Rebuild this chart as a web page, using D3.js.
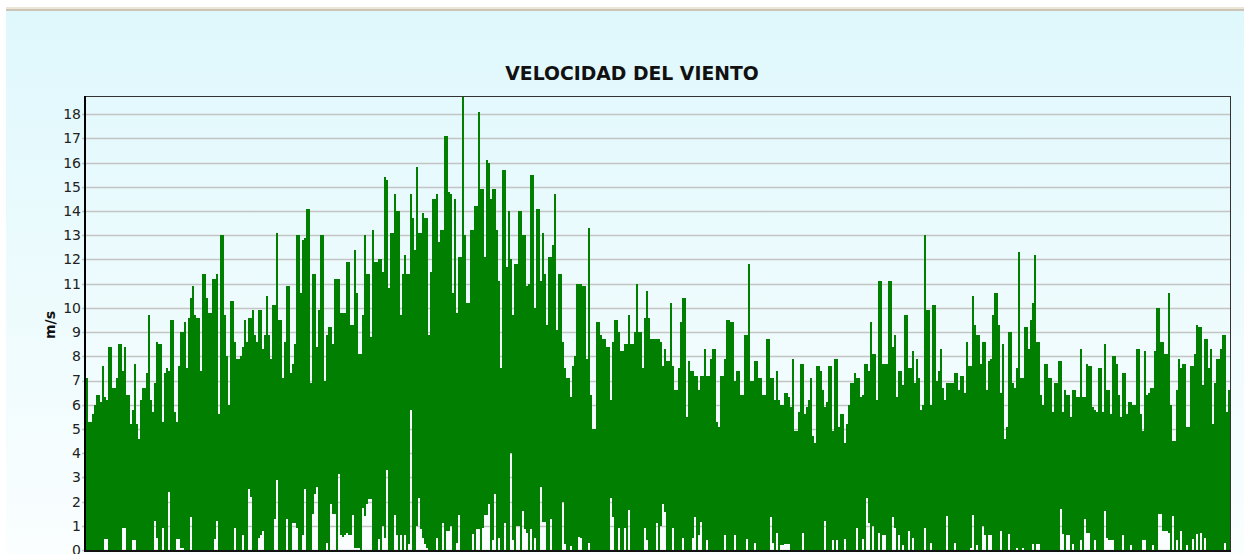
<!DOCTYPE html>
<html>

<head>
    <meta charset="utf-8" />
    <title>Velocidad del viento</title>
    <script src="https://d3js.org/d3.v7.min.js"></script>
    <style>
        body {
            margin: 0;
            background: #ffffff;
        }

        svg {
            display: block;
        }
    </style>
</head>

<body>
    <svg id='chart'></svg>

    <script>

        // upper end of each bar (m/s), left to right
        var vmax = [
            7.1, 5.3, 5.3, 5.6, 6.0, 6.4, 6.4, 6.1, 7.6, 6.3,
            6.2, 8.4, 8.4, 6.7, 6.7, 7.1, 8.5, 8.5, 7.4, 8.4,
            6.4, 6.4, 5.2, 5.8, 7.7, 5.2, 4.6, 6.2, 6.7, 6.7,
            7.3, 9.7, 6.2, 5.7, 6.9, 8.6, 8.5, 8.5, 5.3, 7.3,
            7.5, 7.4, 9.5, 9.5, 5.7, 5.3, 7.6, 9.0, 9.0, 9.4,
            7.5, 9.6, 10.4, 10.9, 9.7, 9.6, 9.6, 7.4, 11.4, 11.4,
            10.4, 9.8, 9.8, 11.2, 11.2, 11.4, 5.6, 13.0, 13.0, 9.7,
            8.0, 6.0, 10.3, 10.3, 8.6, 7.9, 7.9, 8.0, 8.4, 9.5,
            8.6, 9.6, 9.6, 9.9, 8.9, 8.6, 9.9, 9.9, 8.3, 8.9,
            10.5, 8.9, 7.9, 10.1, 10.1, 13.1, 9.5, 9.5, 7.1, 8.6,
            10.9, 10.9, 7.3, 7.7, 8.5, 13.0, 13.0, 10.6, 12.8, 12.9,
            14.1, 14.1, 6.9, 11.4, 11.4, 8.4, 9.9, 13.0, 13.0, 7.0,
            8.9, 9.2, 9.2, 8.5, 11.2, 11.2, 11.2, 9.8, 9.8, 9.8,
            11.9, 11.9, 9.3, 9.3, 12.4, 10.6, 8.1, 8.1, 9.7, 13.0,
            11.4, 11.4, 8.8, 13.2,
            11.9, 11.9, 12.0, 12.0, 11.5, 15.4, 15.3, 10.8, 13.1, 13.1,
            14.7, 14.0, 14.0, 9.7, 11.4, 12.2, 11.4, 11.4, 14.7, 13.7,
            12.4, 15.8, 13.1, 13.1, 13.9, 13.7, 13.7, 8.9, 11.5, 14.5,
            14.5, 14.7, 12.7, 13.2, 13.2, 17.1, 17.1, 14.8, 14.7, 10.6,
            14.5, 9.8, 12.1, 12.1, 18.7, 13.0, 10.2, 10.2, 13.2, 13.2,
            14.2, 14.2, 18.1, 14.9, 14.9, 12.1, 16.1, 16.0, 14.5, 14.9,
            14.9, 13.2, 11.1, 7.5, 15.7, 15.7, 11.7, 14.0, 12.0, 9.7,
            11.8, 11.8, 14.0, 14.0, 13.0, 13.0, 10.9, 11.0, 15.5, 15.5,
            10.0, 14.1, 14.1, 11.1, 13.1, 11.4, 9.3, 12.1, 12.1, 12.6,
            14.7, 9.1, 11.4, 11.4, 8.6, 7.5, 7.1, 7.1, 6.3, 7.6,
            8.0, 11.0, 11.0, 11.0, 10.9, 10.9, 7.9, 13.3, 6.4, 5.0,
            5.0, 9.4, 9.4, 8.9, 8.7, 8.7, 8.4, 8.4, 6.2, 8.6,
            9.5, 9.5, 9.0, 8.2, 8.2, 8.5, 8.5, 9.7, 8.5, 8.5,
            9.0, 11.0, 9.0, 9.0, 7.5, 9.6, 10.7, 9.6, 8.7, 8.7,
            8.7, 8.7, 8.7,
            8.6, 7.6, 8.3, 7.8, 7.8, 10.2, 7.6, 6.6, 6.6, 7.5,
            9.4, 10.4, 10.4, 5.5, 7.8, 7.4, 7.4, 7.2, 7.2, 6.6,
            7.2, 7.2, 8.3, 7.2, 7.2, 7.9, 8.3, 8.3, 5.3, 5.1,
            7.2, 7.2, 7.9, 9.5, 9.5, 9.4, 9.4, 7.0, 7.4, 7.4,
            6.4, 6.4, 8.9, 8.9, 11.8, 7.0, 7.0, 7.8, 7.8, 7.1,
            7.1, 6.4, 6.4, 8.7, 8.7, 7.1, 7.1, 6.2, 7.4, 6.2,
            6.0, 6.0, 6.5, 6.5, 6.3, 5.9, 7.9, 4.9, 4.9, 5.7,
            7.7, 7.7, 5.6, 5.9, 6.2, 7.1, 4.7, 4.4, 7.6, 7.6,
            7.4, 6.6, 5.9, 6.1, 7.6, 7.6, 4.9, 7.9, 7.9, 5.1,
            5.6, 5.6, 4.4, 5.2, 6.0, 6.9, 6.9, 7.3, 7.1, 7.1,
            6.3, 6.4, 7.7, 7.7, 7.4, 9.4, 8.1, 8.1, 6.2, 11.1,
            11.1, 7.7, 7.7, 7.7, 11.1, 11.1, 8.4, 8.9, 6.3, 7.4,
            7.4, 6.8, 9.7, 9.7, 7.5, 7.5, 8.2, 6.9, 7.9, 7.1,
            5.8, 6.0, 13.0, 9.9, 9.9, 6.0, 10.1, 10.1, 7.0, 7.4,
            8.3, 6.7, 6.2,
            6.9, 6.9, 6.9, 6.9, 7.3, 7.3, 6.6, 7.2, 7.2, 6.5,
            8.6, 7.6, 7.6, 10.5, 9.3, 8.9, 8.9, 7.7, 8.6, 8.6,
            6.6, 7.8, 7.9, 9.7, 10.6, 10.6, 9.3, 6.5, 8.5, 4.6,
            5.1, 9.0, 9.0, 6.9, 6.7, 7.5, 12.3, 7.1, 7.1, 9.2,
            9.2, 8.3, 9.5, 10.2, 12.2, 8.6, 8.6, 6.4, 6.0, 7.7,
            7.7, 7.1, 7.1, 5.7, 6.9, 6.9, 7.8, 7.8, 5.7, 6.6,
            6.4, 6.4, 5.5, 6.6, 6.6, 6.3, 6.3, 8.3, 6.3, 6.3,
            7.7, 7.6, 7.6, 5.9, 5.8, 5.7, 7.5, 7.5, 5.7, 8.5,
            6.6, 6.6, 5.6, 8.0, 8.0, 7.7, 6.4, 5.5, 7.3, 7.3,
            5.6, 6.1, 6.1, 6.0, 6.0, 8.3, 8.3, 5.6, 4.9, 8.2,
            6.4, 6.5, 6.7, 6.7, 8.2, 10.0, 10.0, 8.6, 8.6, 8.1,
            8.1, 10.6, 6.0, 4.5, 4.5, 6.6, 7.9, 7.5, 7.7, 7.7,
            5.1, 5.1, 7.6, 7.6, 8.1, 9.3, 9.2, 9.2, 6.8, 8.7,
            8.7, 7.5, 8.3, 5.2, 6.9, 7.9, 7.9, 8.3, 8.9, 8.9,
            5.7, 6.6
        ]

        // lower end of each bar (m/s), same order
        var vmin = [
            0, 0, 0, 0, 0, 0, 0, 0, 0, 0.45,
            0.45, 0, 0, 0, 0, 0, 0, 0, 0.9, 0.9,
            0, 0, 0, 0.4, 0.4, 0, 0, 0, 0, 0,
            0, 0, 0, 0, 1.2, 0.5, 0, 0, 0.9, 0,
            0, 2.4, 0, 0, 0, 0.45, 0.45, 0.1, 0.1, 0,
            0, 0, 1.35, 0, 0, 0, 0, 0, 0, 0,
            0, 0, 0, 0, 0.45, 1.2, 0, 0, 0, 0,
            0, 0, 0, 0, 0.9, 0, 0, 0, 0.6, 0,
            0, 2.5, 2.2, 0, 0, 0, 0.5, 0.6, 0.8, 0,
            0, 0, 0, 0, 1.3, 2.9, 0, 0, 0, 0,
            1.3, 0, 0, 1.1, 1.1, 0.9, 0, 0, 0.6, 2.5,
            0, 0, 0, 1.5, 2.3, 2.6, 0, 0, 0, 0,
            0.3, 0, 1.9, 1.5, 1.5, 0, 3.15, 0.6, 0.55, 0.6,
            0.7, 0.6, 0.6, 1.45, 0.1, 0.1, 0.1, 0, 1.75, 1.4,
            1.9, 2.1, 2.1, 0,
            0, 0, 0.45, 0, 1.0, 0.5, 3.3, 0, 0, 0,
            1.45, 0.6, 0, 0.6, 0, 0.6, 0, 0.25, 5.8, 0,
            0, 1.0, 2.15, 0.85, 0.5, 0.25, 0.1, 0, 0, 0,
            0, 0.5, 0, 0, 1.1, 0, 0.8, 0.8, 1.0, 0,
            0, 0.3, 1.45, 0, 0, 0, 0, 0, 0, 0.65,
            0, 0.85, 0.85, 0, 0.9, 1.45, 1.45, 1.9, 0, 0.4,
            2.3, 0, 0.5, 0, 0, 1.1, 0, 0, 4.0, 0.4,
            0, 1.0, 1.0, 0, 1.6, 0.85, 0.7, 0, 0.85, 0,
            0.5, 0, 0, 2.6, 1.15, 1.15, 0, 0, 1.3, 0,
            0, 0, 0, 0, 2.0, 0.25, 0, 0, 0.15, 0,
            0, 0, 0.55, 0.5, 0, 0, 0, 0.3, 0, 0,
            0, 0, 0, 0, 0, 0, 0, 0, 2.15, 1.35,
            0, 0, 0.9, 0, 0, 0.9, 0, 1.65, 0, 0,
            0, 0, 0, 0, 0, 0.9, 0.4, 0, 0, 0,
            0, 1.1, 0,
            1.0, 1.9, 1.55, 0, 0, 0, 0.9, 0, 0, 0,
            0, 0.5, 0, 0, 0, 0, 0.5, 1.35, 0, 0.6,
            1.15, 0, 0, 0.4, 0, 0, 0, 0, 0, 0,
            0, 0, 0.6, 0, 0, 0, 0, 0.6, 0, 0,
            0, 0, 0, 0.45, 0, 0, 0, 0.3, 0, 0,
            0, 0, 0, 0, 0, 1.35, 0.3, 0, 0.7, 0,
            0.2, 0.2, 0.25, 0.25, 0.25, 0, 0, 0, 0, 0,
            0, 0.7, 0, 0, 0, 0, 0, 0, 0, 0,
            0, 0, 1.2, 0, 0, 0, 0.4, 0, 0.4, 0,
            0, 0, 0.45, 0, 0, 0, 0, 0, 0.9, 0,
            0, 0.45, 0, 2.15, 1.1, 0, 1.0, 0, 0, 0.7,
            0, 0.6, 0.6, 0, 0, 0, 1.35, 0.9, 0, 0.6,
            0, 0.2, 0, 0, 0.8, 0, 0.5, 0, 0, 0,
            0, 0, 0.9, 0, 0, 0.3, 0, 0, 0, 0,
            0, 0, 0,
            1.4, 0, 0, 0, 0.3, 0, 0, 0, 0, 0,
            0, 0, 0.1, 1.45, 0, 0.2, 0, 0, 1.0, 0.6,
            0, 0.6, 0.6, 0, 0, 0, 0, 0.8, 0, 0,
            0, 0.65, 0, 0, 0, 0.1, 0, 0, 0.1, 0,
            0, 0, 0, 0.25, 0, 0.25, 0.25, 0, 0, 0,
            0, 0, 0, 0, 0, 0, 0, 1.7, 0.65, 0,
            0.6, 0.6, 0, 0.25, 0, 0, 0, 0.4, 0, 1.3,
            0.7, 0.7, 0, 0, 0.4, 0, 0, 0, 0, 1.6,
            0.5, 0.4, 0.4, 0.4, 0, 0, 0, 0, 0.6, 0,
            0, 0, 0.2, 0, 0, 0, 0, 0, 0.4, 0.4,
            0, 0, 0, 0.2, 0, 0, 1.5, 1.5, 0.8, 0.8,
            0.8, 0.7, 0, 1.4, 0, 0.4, 0, 0.8, 0, 0,
            0.2, 0, 0, 0.45, 0, 0.65, 0, 0.7, 0, 0.5,
            0, 0, 0, 0, 0, 0, 0, 0, 0, 0.3,
            0, 0
        ]

        var yTicks = d3.range(0, 19)
        var yTop = 18.75

        var W = 1244
        var H = 554
        var plotL = 86, plotR = 1230, plotT = 96, plotB = 550

        var svg = d3.select('#chart')
            .attr('width', W)
            .attr('height', H)

        // page background
        var defs = svg.append('defs')
        var grad = defs.append('linearGradient')
            .attr('id', 'bg')
            .attr('x1', 0).attr('y1', 0)
            .attr('x2', 0).attr('y2', 1)
        grad.append('stop').attr('offset', '0%').attr('stop-color', '#dff8fc')
        grad.append('stop').attr('offset', '100%').attr('stop-color', '#fafeff')

        svg.append('rect')
            .attr('x', 0).attr('y', 0)
            .attr('width', W).attr('height', H)
            .style('fill', '#ffffff')

        svg.append('rect')
            .attr('x', 6).attr('y', 11)
            .attr('width', W - 6).attr('height', H - 11)
            .style('fill', 'url(#bg)')

        svg.append('rect')
            .attr('x', 6).attr('y', 7)
            .attr('width', W - 6).attr('height', 2)
            .style('fill', '#ebe6d8')
        svg.append('rect')
            .attr('x', 6).attr('y', 9)
            .attr('width', W - 6).attr('height', 2)
            .style('fill', '#ccc5b5')

        var x = d3.scaleBand()
            .domain(d3.range(vmax.length))
            .range([plotL, plotR])
            .paddingInner(0)
            .paddingOuter(0)

        var y = d3.scaleLinear()
            .domain([0, yTop])
            .range([plotB, plotT])

        // grid lines
        svg.append('g')
            .selectAll('line')
            .data(yTicks)
            .enter()
            .append('line')
            .attr('x1', plotL - 4)
            .attr('x2', plotR)
            .attr('y1', d => Math.round(y(d)) + 0.5)
            .attr('y2', d => Math.round(y(d)) + 0.5)
            .style('stroke', '#c4c4c4')
            .style('stroke-width', 1.5)

        // bars
        svg.append('g')
            .selectAll('rect')
            .data(vmax)
            .enter()
            .append('rect')
            .attr('x', (d, i) => x(i))
            .attr('width', x.bandwidth())
            .attr('y', d => y(d))
            .attr('height', (d, i) => y(vmin[i]) - y(d))
            .style('fill', '#007f00')
            .attr('shape-rendering', 'crispEdges')

        // y axis labels
        var yAxis = d3.axisLeft(y)
            .tickValues(yTicks)
            .tickSize(0)
            .tickPadding(5)
            .tickFormat(d3.format('d'))

        var ag = svg.append('g')
            .attr('transform', `translate(${plotL},0)`)
            .call(yAxis)
        ag.select('.domain').remove()
        ag.selectAll('text')
            .style('font', '14px "DejaVu Sans", sans-serif')
            .style('fill', '#222')

        // frame
        svg.append('line')
            .attr('x1', plotL - 1).attr('x2', plotR + 1)
            .attr('y1', plotT + 0.5).attr('y2', plotT + 0.5)
            .style('stroke', '#333').style('stroke-width', 1)
        svg.append('line')
            .attr('x1', plotR + 0.5).attr('x2', plotR + 0.5)
            .attr('y1', plotT).attr('y2', plotB + 2)
            .style('stroke', '#333').style('stroke-width', 1)
        svg.append('line')
            .attr('x1', plotL - 1).attr('x2', plotL - 1)
            .attr('y1', plotT).attr('y2', plotB + 2)
            .style('stroke', '#000').style('stroke-width', 2)
        svg.append('line')
            .attr('x1', plotL - 2).attr('x2', plotR + 1)
            .attr('y1', plotB + 1).attr('y2', plotB + 1)
            .style('stroke', '#111').style('stroke-width', 2)

        // titles
        svg.append('text')
            .attr('x', 632)
            .attr('y', 80)
            .attr('text-anchor', 'middle')
            .style('font', 'bold 18.8px "DejaVu Sans", sans-serif')
            .style('fill', '#111')
            .text('VELOCIDAD DEL VIENTO')

        svg.append('text')
            .attr('transform', 'translate(55,325) rotate(-90)')
            .attr('text-anchor', 'middle')
            .style('font', 'bold 14px "DejaVu Sans", sans-serif')
            .style('fill', '#111')
            .text('m/s')

    </script>
</body>

</html>
